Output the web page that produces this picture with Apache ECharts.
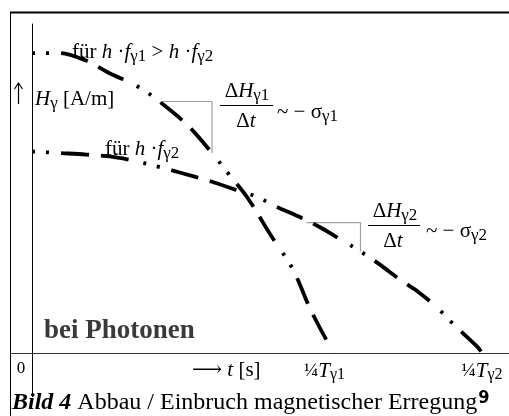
<!DOCTYPE html>
<html><head><meta charset="utf-8">
<script src="https://cdn.jsdelivr.net/npm/echarts@6/dist/echarts.min.js"></script>
<style>html,body{margin:0;padding:0;background:#fff}#c{width:509px;height:416px}</style>
</head><body><div id="c"></div>
<script>
// Time in units of 1/4 T_gamma2, field strength normalised to start of curve 1
const t1 = [0, 0.06, 0.12, 0.17, 0.24, 0.30, 0.35, 0.40, 0.44, 0.48, 0.53, 0.58, 0.62, 0.67];
const H1 = [0.99, 0.99, 0.965, 0.925, 0.875, 0.81, 0.745, 0.66, 0.585, 0.51, 0.39, 0.275, 0.14, 0];
const t2 = [0, 0.06, 0.12, 0.19, 0.24, 0.28, 0.33, 0.40, 0.45, 0.50, 0.54, 0.60, 0.64, 0.68, 0.73, 0.77, 0.82, 0.86, 0.90, 0.94, 0.99, 1.0];
const H2 = [0.665, 0.66, 0.655, 0.645, 0.63, 0.615, 0.595, 0.565, 0.54, 0.515, 0.485, 0.445, 0.415, 0.38, 0.335, 0.295, 0.24, 0.2, 0.15, 0.09, 0.02, 0];
const slope1T = [0.29, 0.40, 0.40];
const slope1H = [0.83, 0.83, 0.66];
const slope2T = [0.61, 0.73, 0.73];
const slope2H = [0.43, 0.43, 0.335];
const tickValues = [0, 0.65, 1.0];
const tickLabels = ['0', '¼T_γ1', '¼T_γ2'];

const zip = (a, b) => a.map((v, i) => [v, b[i]]);
const SERIF = "'Liberation Serif', 'DejaVu Serif', serif";
const dash = [3, 11, 3, 12, 28, 12, 28, 15];

const rich = {
  n: {fontFamily: SERIF, fontSize: 21, color: '#000'},
  i: {fontFamily: SERIF, fontSize: 21, fontStyle: 'italic', color: '#000'},
  s: {fontFamily: SERIF, fontSize: 17, color: '#000', padding: [9, 0, 0, 0]}
};

function label(str) {
  if (str === '0') return '{z|0}';
  const m = str.match(/¼T_(.)(.)/);
  return '{n|¼}{i|T}{s|' + m[1] + m[2] + '}';
}

const chart = echarts.init(document.getElementById('c'), null, {renderer: 'canvas'});
chart.setOption({
  animation: false,
  backgroundColor: '#fff',
  grid: {left: 11, right: 0, top: 24, bottom: 63},
  xAxis: {
    type: 'value', min: -0.0467, max: 1.06,
    splitLine: {show: false}, axisTick: {show: false},
    axisLine: {onZero: false, lineStyle: {color: '#333', width: 1}},
    axisLabel: {
      customValues: tickValues, margin: 7, showMinLabel: true, showMaxLabel: true,
      formatter: v => label(tickLabels[tickValues.indexOf(v)] || ''),
      rich: {
        z: {fontFamily: SERIF, fontSize: 17, color: '#000', padding: [0, 22, 0, 0]},
        n: {fontFamily: SERIF, fontSize: 19, color: '#000'},
        i: {fontFamily: SERIF, fontSize: 21, fontStyle: 'italic', color: '#000'},
        s: {fontFamily: SERIF, fontSize: 16, color: '#000', padding: [7, 0, 0, 0]}
      }
    }
  },
  yAxis: {
    type: 'value', min: 0, max: 1.0858,
    splitLine: {show: false}, axisTick: {show: false}, axisLabel: {show: false},
    axisLine: {onZero: true, lineStyle: {color: '#000', width: 1}}
  },
  series: [
    {type: 'line', data: zip(t1, H1), showSymbol: false, smooth: 0.35, z: 3,
     lineStyle: {color: '#000', width: 3.8, type: dash, cap: 'butt'}},
    {type: 'line', data: zip(t2, H2), showSymbol: false, smooth: 0.35, z: 3,
     lineStyle: {color: '#000', width: 3.8, type: dash, cap: 'butt'}},
    {type: 'line', data: zip(slope1T, slope1H), showSymbol: false, z: 2,
     lineStyle: {color: '#a0a0a0', width: 1.2}},
    {type: 'line', data: zip(slope2T, slope2H), showSymbol: false, z: 2,
     lineStyle: {color: '#a0a0a0', width: 1.2}}
  ]
});

const p0 = chart.convertToPixel({gridIndex: 0}, [0, 0]);
const yx = Math.round(p0[0]) + 0.5;

chart.setOption({
  graphic: [
    {type: 'line', silent: true, shape: {x1: 10, y1: 12.5, x2: 509, y2: 12.5}, style: {stroke: '#000', lineWidth: 2}},
    {type: 'line', silent: true, shape: {x1: 10.5, y1: 12, x2: 10.5, y2: 416}, style: {stroke: '#000', lineWidth: 1}},
    {type: 'line', silent: true, shape: {x1: yx, y1: p0[1], x2: yx, y2: 397}, style: {stroke: '#000', lineWidth: 1}},
    // upward arrow of the y-axis name
    {type: 'line', silent: true, shape: {x1: 18.5, y1: 104, x2: 18.5, y2: 83}, style: {stroke: '#000', lineWidth: 1.2}},
    {type: 'polyline', silent: true, shape: {points: [[14.5, 89], [18.5, 83], [22.5, 89]]}, style: {stroke: '#000', lineWidth: 1.2, fill: null}},
    {type: 'text', x: 35, y: 99, style: {text: '{i|H}{s|γ}{n| [A/m]}', rich: rich, verticalAlign: 'middle'}},
    {type: 'text', x: 72, y: 52, style: {text: '{n|für }{i|h}{n| ·}{i|f}{s|γ1}{n| > }{i|h}{n| ·}{i|f}{s|γ2}', rich: rich, verticalAlign: 'middle'}},
    {type: 'text', x: 105, y: 149, style: {text: '{n|für }{i|h}{n| ·}{i|f}{s|γ2}', rich: rich, verticalAlign: 'middle'}},
    // fraction 1
    {type: 'text', x: 247, y: 91, style: {text: '{n|Δ}{i|H}{s|γ1}', rich: rich, align: 'center', verticalAlign: 'middle'}},
    {type: 'line', silent: true, shape: {x1: 220, y1: 105.5, x2: 273, y2: 105.5}, style: {stroke: '#000', lineWidth: 1}},
    {type: 'text', x: 246, y: 121, style: {text: '{n|Δ}{i|t}', rich: rich, align: 'center', verticalAlign: 'middle'}},
    {type: 'text', x: 277, y: 112, style: {text: '{n|~ − σ}{s|γ1}', rich: rich, verticalAlign: 'middle'}},
    // fraction 2
    {type: 'text', x: 395, y: 211, style: {text: '{n|Δ}{i|H}{s|γ2}', rich: rich, align: 'center', verticalAlign: 'middle'}},
    {type: 'line', silent: true, shape: {x1: 368, y1: 225.5, x2: 420, y2: 225.5}, style: {stroke: '#000', lineWidth: 1}},
    {type: 'text', x: 393, y: 241, style: {text: '{n|Δ}{i|t}', rich: rich, align: 'center', verticalAlign: 'middle'}},
    {type: 'text', x: 426, y: 231, style: {text: '{n|~ − σ}{s|γ2}', rich: rich, verticalAlign: 'middle'}},
    // bei Photonen
    {type: 'text', x: 44, y: 331, style: {text: 'bei Photonen', font: "bold 27px " + SERIF, fill: '#3a3a3a', verticalAlign: 'middle'}},
    // axis name
    {type: 'text', x: 192, y: 370, style: {text: '{n|⟶ }{i|t}{n| [s]}', rich: rich, verticalAlign: 'middle'}},
    // caption
    {type: 'text', x: 12, y: 403, style: {
      text: '{b|Bild 4}{c| Abbau / Einbruch magnetischer Erregung}{r|9}', verticalAlign: 'middle',
      rich: {
        b: {fontFamily: SERIF, fontSize: 24, fontStyle: 'italic', fontWeight: 'bold', color: '#000'},
        c: {fontFamily: SERIF, fontSize: 24, color: '#000'},
        r: {fontFamily: "'Liberation Sans Narrow', 'DejaVu Sans Condensed', sans-serif", fontSize: 18, fontWeight: 'bold', color: '#e00000', padding: [0, 0, 10, 1]}
      }
    }}
  ]
});
</script></body></html>
